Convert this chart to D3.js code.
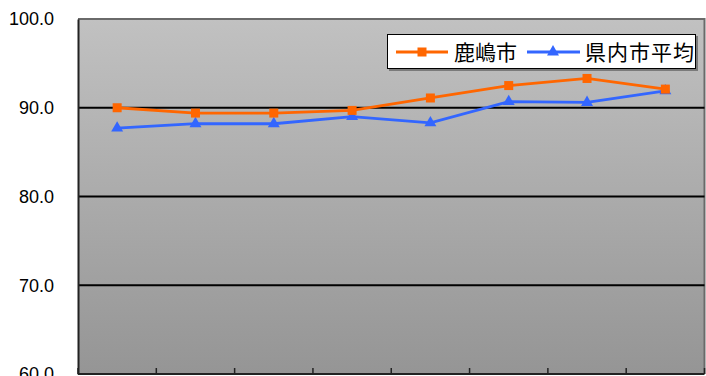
<!DOCTYPE html>
<html><head><meta charset="utf-8">
<script src="https://cdn.jsdelivr.net/npm/d3@7"></script>
<style>body{margin:0;background:#fff;}svg{display:block;}</style>
</head><body>
<svg id="c" width="706" height="376"></svg>
<script>
const categories = ["1","2","3","4","5","6","7","8"];
const kashima = [90.0, 89.4, 89.4, 89.7, 91.1, 92.5, 93.3, 92.1];
const prefAvg = [87.7, 88.2, 88.2, 89.0, 88.3, 90.7, 90.6, 91.9];
const yTicks = [60, 70, 80, 90, 100];
const seriesNames = ["鹿嶋市", "県内市平均"];

const svg = d3.select("#c");
const L = 78, R = 704.5, T = 19, B = 374;
const x = d3.scaleBand().domain(categories).range([L, R]);
const y = d3.scaleLinear().domain([60, 100]).range([B, T]);

const defs = svg.append("defs");
const g = defs.append("linearGradient").attr("id","bg").attr("x1",0).attr("y1",0).attr("x2",0).attr("y2",1);
g.append("stop").attr("offset","0%").attr("stop-color","#c1c1c1");
g.append("stop").attr("offset","100%").attr("stop-color","#959595");

svg.append("rect").attr("x",L).attr("y",T).attr("width",R-L).attr("height",B-T).attr("fill","url(#bg)");
// top/right border
svg.append("path").attr("d",`M${L},${T}H${R}V${B}`).attr("fill","none").attr("stroke","#6a6a6a").attr("stroke-width",2);

// gridlines
svg.selectAll(".grid").data(yTicks.filter(d=>d>60 && d<100)).enter().append("line")
  .attr("x1",L).attr("x2",R).attr("y1",d=>y(d)).attr("y2",d=>y(d))
  .attr("stroke","#000").attr("stroke-width",2.2);

// y axis
const yAxis = d3.axisLeft(y).tickValues(yTicks).tickSize(0).tickPadding(24).tickFormat(d3.format(".1f"));
const ya = svg.append("g").attr("transform",`translate(${L},0)`).call(yAxis);
ya.select(".domain").attr("stroke","#222").attr("stroke-width",2);
ya.selectAll("text").attr("font-family","'Liberation Sans', Arial, sans-serif").attr("font-size",18).attr("fill","#000");

// x axis
const xa = svg.append("g").attr("transform",`translate(0,${B})`);
xa.append("line").attr("x1",L).attr("x2",R).attr("y1",0).attr("y2",0).attr("stroke","#222").attr("stroke-width",2);
const bounds = categories.map(c=>x(c)).concat([R]);
xa.selectAll(".tk").data(bounds).enter().append("line")
  .attr("x1",d=>d).attr("x2",d=>d).attr("y1",0).attr("y2",-6).attr("stroke","#222").attr("stroke-width",1.5);

const cx = c => x(c) + x.bandwidth()/2;
const line = d3.line().x((d,i)=>cx(categories[i])).y(d=>y(d));
const orange = "#FF6600", blue = "#3366FF";
const tri = d3.symbol().type(d3.symbolTriangle).size(62);

svg.append("path").datum(prefAvg).attr("d",line).attr("fill","none").attr("stroke",blue).attr("stroke-width",2.8);
svg.selectAll(".tri").data(prefAvg).enter().append("path")
  .attr("transform",(d,i)=>`translate(${cx(categories[i])},${y(d)})`).attr("d",tri).attr("fill",blue);

svg.append("path").datum(kashima).attr("d",line).attr("fill","none").attr("stroke",orange).attr("stroke-width",2.8);
svg.selectAll(".sq").data(kashima).enter().append("rect")
  .attr("x",(d,i)=>cx(categories[i])-4.5).attr("y",d=>y(d)-4.5).attr("width",9).attr("height",9).attr("fill",orange);

// legend
const lg = svg.append("g");
lg.append("rect").attr("x",389).attr("y",36).attr("width",309).attr("height",35).attr("fill","#7a7a7a");
lg.append("rect").attr("x",387.5).attr("y",34.5).attr("width",308).attr("height",34).attr("fill","#fff").attr("stroke","#000").attr("stroke-width",1);
const ly = 52;
lg.append("line").attr("x1",396).attr("x2",448).attr("y1",ly).attr("y2",ly).attr("stroke",orange).attr("stroke-width",2.8);
lg.append("rect").attr("x",417.5).attr("y",ly-4.5).attr("width",9).attr("height",9).attr("fill",orange);
lg.append("text").attr("x",454).attr("y",ly+7.5).text(seriesNames[0])
  .attr("font-family","'Noto Sans CJK JP', sans-serif").attr("font-size",21).attr("fill","#000");
lg.append("line").attr("x1",527).attr("x2",580).attr("y1",ly).attr("y2",ly).attr("stroke",blue).attr("stroke-width",2.8);
lg.append("path").attr("transform",`translate(553,${ly})`).attr("d",tri).attr("fill",blue);
lg.append("text").attr("x",585).attr("y",ly+7.5).text(seriesNames[1])
  .attr("font-family","'Noto Sans CJK JP', sans-serif").attr("font-size",21).attr("fill","#000").attr("letter-spacing",1);
</script>
</body></html>
